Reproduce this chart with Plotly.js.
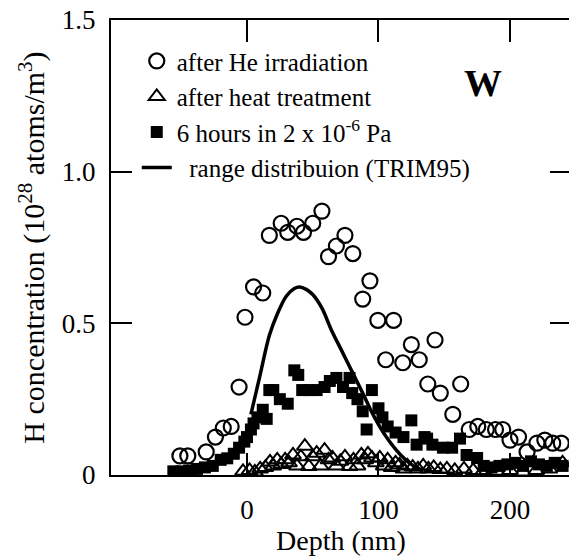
<!DOCTYPE html>
<html>
<head>
<meta charset="utf-8">
<script src="https://cdn.plot.ly/plotly-3.0.1.min.js"></script>
<style>html,body{margin:0;padding:0;overflow:hidden;background:#fff}</style>
</head>
<body>
<div id="chart" style="width:572px;height:560px"></div>
<script>
// After He irradiation (open circles)
const heDepth = [-51,-45,-31,-24,-18,-12,-6,-1.5,5,12,17,26,31,38,43,50,57,62,68,74.5,80.5,88,93.5,99.5,105.5,111.5,118.5,125,131,137.5,143,147,156.5,162.5,169,175.5,182,189,194.5,200,206.5,213,220.5,226.5,232.5,239];
const heConc  = [0.063,0.063,0.076,0.125,0.155,0.16,0.29,0.52,0.62,0.60,0.79,0.83,0.80,0.82,0.80,0.83,0.87,0.72,0.755,0.79,0.73,0.58,0.64,0.51,0.38,0.51,0.37,0.43,0.38,0.30,0.445,0.27,0.20,0.30,0.15,0.16,0.15,0.15,0.15,0.115,0.125,0.076,0.105,0.115,0.105,0.105];

// After heat treatment (open triangles)
const heatDepth = [-3,2,6,10,14,17.5,20,23,26,29,32,35,38,41,44,47,50,53,56,59,62,65,68,71,74.5,78,81,84,87,90,92,95,98,101,104,107,110,113,116,119,122,126,130,134,138,142,147,152,158,165,172,180,190,200,210,220,230,240];
const heatConc  = [0.012,0.015,0.01,0.02,0.025,0.043,0.03,0.05,0.035,0.05,0.04,0.066,0.03,0.06,0.095,0.028,0.06,0.072,0.03,0.082,0.05,0.056,0.03,0.045,0.06,0.028,0.05,0.03,0.066,0.05,0.07,0.056,0.04,0.056,0.03,0.05,0.025,0.04,0.033,0.02,0.03,0.026,0.02,0.03,0.02,0.025,0.018,0.02,0.015,0.02,0.015,0.015,0.012,0.015,0.01,0.015,0.02,0.04];

// 6 hours in 2 x 10^-6 Pa (filled squares)
const vacDepth = [-56,-50,-44,-38,-32,-26,-20,-15,-10,-6,-2,0,3,5,8,12,15,17,20,25,31,36,39,42,47,53,59,63,68,73,78,80,84,88,91,95,100,103,107,113,119,125,129,135,137,141,149,156,162,167,175,180,186,192,198,204,210,216,222,228,234,240];
const vacConc  = [0.012,0.012,0.015,0.02,0.025,0.03,0.05,0.055,0.07,0.09,0.11,0.125,0.15,0.17,0.19,0.215,0.185,0.28,0.28,0.25,0.235,0.345,0.33,0.28,0.28,0.28,0.29,0.31,0.32,0.29,0.32,0.27,0.25,0.21,0.15,0.28,0.22,0.19,0.16,0.14,0.125,0.18,0.10,0.125,0.12,0.10,0.09,0.09,0.12,0.066,0.056,0.03,0.025,0.03,0.035,0.04,0.03,0.045,0.035,0.03,0.04,0.03];

// Range distribution (TRIM95)
const trimDepth = [3,10,17,23,30,36,40,45,50,57,64,72,80,88,97,106,116,125,134];
const trimConc  = [0.20,0.33,0.46,0.53,0.59,0.615,0.62,0.612,0.595,0.55,0.48,0.41,0.34,0.27,0.19,0.125,0.07,0.035,0.015];

const xTicks = [0,100,200];
const yTicks = [0,0.5,1.0,1.5];
const yTickText = ['0','0.5','1.0','1.5'];

const serif = 'Liberation Serif';

const traces = [
  {x: heDepth, y: heConc, mode: 'markers', name: 'after He irradiation', legendgroup:'a',
   marker: {symbol: 'circle-open', size: 15, color: 'black', line: {width: 2.2, color: 'black'}}},
  {x: heatDepth, y: heatConc, mode: 'markers', name: 'after heat treatment', legendgroup:'b',
   marker: {symbol: 'triangle-up-open', size: 14, color: 'black', line: {width: 2, color: 'black'}}},
  {x: vacDepth, y: vacConc, mode: 'markers', name: '6 hours in 2 x 10<sup>-6</sup> Pa', legendgroup:'c',
   marker: {symbol: 'square', size: 12, color: 'black'}},
  {x: trimDepth, y: trimConc, mode: 'lines', name: '\u00a0\u00a0range distribuion (TRIM95)', legendgroup:'d',
   line: {color: 'black', width: 3.5, shape: 'spline'}}
];

const layout = {
  width: 572, height: 560,
  margin: {l: 111, r: 1, t: 20, b: 85},
  paper_bgcolor: 'white', plot_bgcolor: 'white',
  font: {family: serif, color: 'black', size: 26},
  showlegend: true,
  legend: {x: 0.056, y: 0.96, xanchor: 'left', yanchor: 'top', bgcolor: 'rgba(0,0,0,0)',
           font: {family: serif, size: 25, color: 'black'}, traceorder: 'grouped', tracegroupgap: 0},
  xaxis: {range: [-103.4, 246.4], tickvals: xTicks, ticktext: xTicks.map(String),
          showline: true, linewidth: 2, linecolor: 'black', mirror: 'ticks',
          ticks: 'inside', ticklen: 22, tickwidth: 2, tickcolor: 'black',
          showgrid: false, zeroline: false, ticklabelstandoff: 10,
          tickfont: {family: serif, size: 27},
          title: {text: 'Depth (nm)', font: {family: serif, size: 28}, standoff: 4}},
  yaxis: {range: [0, 1.5], tickvals: yTicks, ticktext: yTickText,
          showline: true, linewidth: 2, linecolor: 'black', mirror: 'ticks',
          ticks: 'inside', ticklen: 21, tickwidth: 2, tickcolor: 'black',
          showgrid: false, zeroline: false, ticklabelstandoff: 8,
          tickfont: {family: serif, size: 27},
          title: {text: 'H concentration (10<sup>28</sup> atoms/m<sup>3</sup>)', font: {family: serif, size: 30}, standoff: 8}},
  annotations: [
    {x: 179.5, y: 1.292, xref: 'x', yref: 'y', text: '<b>W</b>', showarrow: false,
     font: {family: serif, size: 38, color: 'black'}}
  ]
};

Plotly.newPlot('chart', traces, layout, {displayModeBar: false, staticPlot: true});
</script>
</body>
</html>
